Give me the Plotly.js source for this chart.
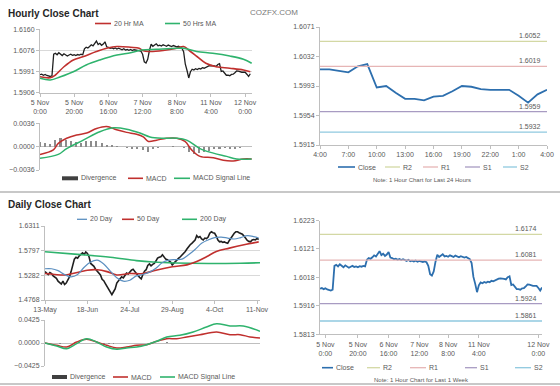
<!DOCTYPE html>
<html><head><meta charset="utf-8">
<script src="https://cdn.plot.ly/plotly-3.0.1.min.js"></script>
<style>html,body{margin:0;padding:0;background:#fff;}#chart{width:560px;height:386px;}</style>
</head><body><div id="chart"></div>
<script>
// ---------- DATA ----------
const hourlyTickIdx = [0,20,40,60,80,100,120];
const weekTickIdx = [3,21,38,55,71,88,121];
const hourlyTickText = ['5 Nov<br>0:00','5 Nov<br>20:00','6 Nov<br>16:00','7 Nov<br>12:00','8 Nov<br>8:00','11 Nov<br>4:00','12 Nov<br>0:00'];
const hourlyYTicks = [1.5906,1.5991,1.6076,1.6160];
const hourlyClose = [
1.5978,1.5980,1.5976,1.5979,1.5975,1.5972,1.5971,1.5974,
1.6060,
1.6064,1.6058,1.6066,1.6060,1.6055,1.6062,1.6059,1.6053,1.6057,1.6060,1.6056,
1.6058,1.6055,1.6059,1.6057,1.6060,1.6058,
1.6082,1.6088,1.6085,1.6091,1.6098,1.6094,1.6105,
1.6113,
1.6099,1.6104,1.6096,1.6101,1.6110,
1.6090,1.6088,1.6084,1.6086,1.6082,1.6085,1.6081,1.6084,
1.6080,1.6078,1.6082,1.6077,1.6079,1.6076,1.6079,1.6075,1.6078,1.6077,1.6074,1.6076,1.6073,
1.6060,1.6030,1.6025,1.6040,1.6075,1.6100,1.6092,1.6098,1.6102,1.6094,
1.6096,1.6093,1.6098,1.6095,1.6092,1.6097,1.6094,1.6091,1.6095,1.6093,1.6090,1.6092,1.6088,1.6084,
1.6070,1.6020,1.5995,1.5965,1.5990,1.6000,
1.5997,1.6002,1.5999,1.6003,1.6001,1.6006,1.6004,1.6008,1.6012,1.6014,
1.6015,1.6015,1.6013,1.6011,1.6019,1.6022,1.5991,1.5993,1.5984,1.5976,1.5976,1.5974,
1.5979,1.5980,1.5986,1.5993,1.5992,1.5989,1.5988,1.5988,1.5988,1.5980,1.5971,1.5982];
const ma20hIdx = [0,6,9,14,19.5,25,33,39,45,53,58,60,64,72,80,84,88,92,97,103,111,119,123];
const ma20h =    [1.5970,1.5966,1.5977,1.6010,1.6037,1.6050,1.6071,1.6084,1.6091,1.6088,1.6084,1.6075,1.6071,1.6075,1.6084,1.6091,1.6071,1.6050,1.6024,1.6010,1.6004,1.5997,1.5990];
const ma50hIdx = [0,6,12,19.5,27,35,45,53,59.5,68,80,84,91.6,101,111,119,123.8];
const ma50h =    [1.5964,1.5957,1.5970,1.5990,1.6017,1.6037,1.6057,1.6066,1.6077,1.6080,1.6084,1.6084,1.6071,1.6064,1.6053,1.6040,1.6024];
const macdHIdx = [0,7.8,10.7,15.6,21.4,27.3,33.1,39,44.8,50.7,56.5,60.4,63.4,68.2,74,79.9,84.8,88.7,93.6,101.4,107.2,113,118.9,123.8];
const macdH =    [-0.0012,-0.0005,0.0005,0.0013,0.0018,0.0021,0.0028,0.0031,0.0026,0.0022,0.0019,0.0015,0.0008,0.0010,0.0013,0.0013,0.0008,-0.0005,-0.0015,-0.0017,-0.0021,-0.0022,-0.0019,-0.0019];
const sigHIdx = [0,10.7,15.6,25.3,35,42.9,50.7,58.5,64.3,72,79.9,85.8,93.6,101.4,109.2,115,123.8];
const sigH =    [-0.0018,-0.0012,-0.0003,0.0010,0.0023,0.0029,0.0027,0.0021,0.0015,0.0013,0.0013,0.0010,-0.0003,-0.0010,-0.0015,-0.0019,-0.0019];
const divHIdx = [0,3,6,9,12,15,18,21,24,27,30,33,36,39,42,45,48,51,54,57,60,63,66,69,72,75,78,81,84,87,90,93,96,99,102,105,108,111,114,117,120,123];
const divH = [0.0007,0.0005,0.0004,0.0010,0.0013,0.0011,0.0009,0.0007,0.0006,0.0008,0.0009,0.0008,0.0006,0.0003,0.0002,0.0001,-0.0001,-0.0002,-0.0003,-0.0003,-0.0005,-0.0008,-0.0004,-0.0002,-0.0001,0.0000,0.0001,0.0000,-0.0002,-0.0008,-0.0012,-0.0010,-0.0008,-0.0006,-0.0004,-0.0003,-0.0002,-0.0003,-0.0004,-0.0002,-0.0001,0.0000];

const dayHours = ['4:00','7:00','10:00','13:00','16:00','19:00','22:00','1:00','4:00'];
const dayYTicks = [1.5915,1.5954,1.5993,1.6032,1.6071];
const dayClose = [1.6015,1.6015,1.6013,1.6011,1.6019,1.6022,1.5991,1.5993,1.5984,1.5976,1.5976,1.5974,1.5979,1.5980,1.5986,1.5993,1.5992,1.5989,1.5988,1.5988,1.5988,1.5980,1.5971,1.5982,1.5988];
const pivotNames = ['R2','R1','S1','S2'];
const pivotColors = ['#d3d8a4','#e6b5b5','#a89bc2','#8fc9df'];
const dayPivots = [1.6052,1.6019,1.5959,1.5932];
const weekYTicks = [1.5813,1.5916,1.6018,1.6121,1.6223];
const weekPivots = [1.6174,1.6081,1.5924,1.5861];

const dailyTickIdx = [0,26,52,78,104,130];
const dailyTickText = ['13-May','18-Jun','24-Jul','29-Aug','4-Oct','11-Nov'];
const dailyYTicks = [1.4768,1.5282,1.5797,1.6311];
const dailyClose = [
1.536,1.533,1.530,1.534,1.532,1.527,1.525,1.522,1.516,1.513,
1.510,1.516,1.509,1.512,1.518,1.525,1.536,1.547,1.562,1.566,
1.564,1.569,1.572,1.575,1.572,1.577,1.574,1.567,1.553,1.550,
1.547,1.541,1.537,1.534,1.529,1.520,1.517,1.511,1.505,1.497,
1.492,1.488,1.494,1.500,1.512,1.518,1.521,1.525,1.523,1.528,
1.533,1.531,1.536,1.539,1.541,1.536,1.532,1.528,1.524,1.521,
1.530,1.537,1.540,1.549,1.552,1.548,1.551,1.553,1.558,1.564,
1.566,1.567,1.571,1.566,1.562,1.561,1.558,1.556,1.550,1.553,
1.556,1.560,1.564,1.567,1.570,1.574,1.578,1.583,1.588,1.592,
1.595,1.599,1.602,1.611,1.607,1.609,1.604,1.602,1.606,1.605,
1.608,1.616,1.619,1.617,1.616,1.610,1.602,1.598,1.599,1.597,
1.598,1.596,1.595,1.601,1.606,1.613,1.616,1.619,1.619,1.617,
1.616,1.614,1.610,1.605,1.601,1.599,1.598,1.602,1.603,1.602,
1.605,1.603];
const ma20dIdx = [0,4,8,12,16,20,24,28,32,36,40,44,48,52,56,60,64,68,72,76,80,84,88,92,96,100,104,108,112,116,120,124,128,131];
const ma20d = [1.542,1.542,1.538,1.530,1.525,1.530,1.545,1.556,1.560,1.552,1.537,1.523,1.516,1.518,1.527,1.530,1.535,1.543,1.555,1.560,1.561,1.562,1.571,1.582,1.595,1.602,1.607,1.608,1.606,1.604,1.607,1.611,1.609,1.606];
const ma50dIdx = [0,6,12,17,26,32,38,44,52,60,68,78,87,93,99,105,113,122,131];
const ma50d = [1.532,1.530,1.529,1.532,1.539,1.540,1.536,1.529,1.532,1.532,1.539,1.546,1.550,1.557,1.567,1.578,1.585,1.592,1.598];
const ma200dIdx = [0,20,40,56,66,80,100,120,131.8];
const ma200d = [1.5775,1.5720,1.5660,1.5590,1.5560,1.5540,1.5530,1.5535,1.5545];
const macdDIdx = [0,7.2,13.3,19.4,25.5,31.7,37.8,44,50,56.2,62.3,68.5,74.6,80.7,86.9,95,105.2,113.4,119.6,125.7,131.8];
const macdD = [0,-0.0043,-0.0074,0.0018,0.0068,0.0018,-0.0043,-0.0092,-0.0074,-0.0043,-0.0031,0.0031,0.0080,0.0080,0.0111,0.0154,0.0203,0.0154,0.0154,0.0111,0.0092];
const sigDIdx = [0,7.2,13.3,19.4,25.5,31.7,37.8,44,50,56.2,62.3,68.5,74.6,82.7,90.8,99,105.2,113.4,121.5,131.8];
const sigD = [0,-0.0055,-0.0105,-0.0012,0.0080,0.0018,-0.0074,-0.0117,-0.0092,-0.0074,-0.0031,0.0031,0.0111,0.0142,0.0203,0.0296,0.0357,0.0314,0.0314,0.0216];
const divDIdx = [0,3,6,9,12,15,18,21,24,27,30,33,36,39,42,45,48,51,54,57,60,63,66,69,72,75,78,81,84,87,90,93,96,99,102,105,108,111,114,117,120,123,126,129];
const divD = [0,-0.0005,-0.0008,-0.0010,-0.0008,0.0003,0.0008,0.0010,0.0006,0.0002,-0.0002,-0.0006,-0.0010,-0.0012,-0.0010,-0.0006,-0.0002,0.0003,0.0006,0.0005,0.0003,0.0002,0.0004,0.0006,0.0008,0.0010,0.0008,0.0005,0.0003,0.0002,0.0002,0.0003,0.0004,0.0005,0.0004,0.0002,-0.0002,-0.0005,-0.0006,-0.0004,-0.0003,-0.0005,-0.0006,-0.0007];

// ---------- STYLE ----------
const FONT = 'Liberation Sans, Arial, sans-serif';
const RED = '#c0302e', GREEN = '#2fb36d', BLACK = '#1f1f1f', STEEL = '#5b8fc0', BLUE = '#2d6fae', DIV = '#8c8c8c';
const W = 560, H = 386;
const px = v => v / W, py = v => 1 - v / H;
const idx = a => a.map((_, i) => i);
const tickFont = {family: FONT, size: 7, color: '#595959'};

const traces = [];
traces.push({x: idx(hourlyClose), y: hourlyClose, xaxis:'x', yaxis:'y', type:'scatter', mode:'lines', name:'Close', line:{color:BLACK, width:1.3}});
traces.push({x: ma20hIdx, y: ma20h, xaxis:'x', yaxis:'y', type:'scatter', mode:'lines', name:'20 Hr MA', line:{color:RED, width:1.6, shape:'spline'}});
traces.push({x: ma50hIdx, y: ma50h, xaxis:'x', yaxis:'y', type:'scatter', mode:'lines', name:'50 Hrs MA', line:{color:GREEN, width:1.6, shape:'spline'}});
traces.push({x: divHIdx, y: divH, xaxis:'x2', yaxis:'y2', type:'bar', name:'Divergence', width:1.2, marker:{color:DIV, line:{width:0}}});
traces.push({x: macdHIdx, y: macdH, xaxis:'x2', yaxis:'y2', type:'scatter', mode:'lines', name:'MACD', line:{color:RED, width:1.5, shape:'spline'}});
traces.push({x: sigHIdx, y: sigH, xaxis:'x2', yaxis:'y2', type:'scatter', mode:'lines', name:'MACD Signal Line', line:{color:GREEN, width:1.5, shape:'spline'}});
traces.push({x: idx(dayClose), y: dayClose, xaxis:'x3', yaxis:'y3', type:'scatter', mode:'lines', name:'Close', line:{color:BLUE, width:1.8}});
pivotNames.forEach((n, i) => traces.push({x:[0, dayClose.length - 1], y:[dayPivots[i], dayPivots[i]], xaxis:'x3', yaxis:'y3', type:'scatter', mode:'lines', name:n, line:{color:pivotColors[i], width:1.3}}));
traces.push({x: idx(dailyClose), y: dailyClose, xaxis:'x4', yaxis:'y4', type:'scatter', mode:'lines', name:'Close', line:{color:BLACK, width:1.6}});
traces.push({x: ma200dIdx, y: ma200d, xaxis:'x4', yaxis:'y4', type:'scatter', mode:'lines', name:'200 Day', line:{color:GREEN, width:1.6, shape:'spline'}});
traces.push({x: ma50dIdx, y: ma50d, xaxis:'x4', yaxis:'y4', type:'scatter', mode:'lines', name:'50 Day', line:{color:RED, width:1.6, shape:'spline'}});
traces.push({x: ma20dIdx, y: ma20d, xaxis:'x4', yaxis:'y4', type:'scatter', mode:'lines', name:'20 Day', line:{color:STEEL, width:1.2, shape:'spline'}});
traces.push({x: divDIdx, y: divD, xaxis:'x5', yaxis:'y5', type:'bar', name:'Divergence', width:1.2, marker:{color:DIV, line:{width:0}}});
traces.push({x: macdDIdx, y: macdD, xaxis:'x5', yaxis:'y5', type:'scatter', mode:'lines', name:'MACD', line:{color:RED, width:1.5, shape:'spline'}});
traces.push({x: sigDIdx, y: sigD, xaxis:'x5', yaxis:'y5', type:'scatter', mode:'lines', name:'MACD Signal Line', line:{color:GREEN, width:1.5, shape:'spline'}});
traces.push({x: idx(hourlyClose), y: hourlyClose, xaxis:'x6', yaxis:'y6', type:'scatter', mode:'lines', name:'Close', line:{color:BLUE, width:1.8}});
pivotNames.forEach((n, i) => traces.push({x:[0, hourlyClose.length - 1], y:[weekPivots[i], weekPivots[i]], xaxis:'x6', yaxis:'y6', type:'scatter', mode:'lines', name:n, line:{color:pivotColors[i], width:1.3}}));

const AX = '#bfbfbf', GRID = '#d9d9d9';
function xa(d0, d1, anchor, range, tv, tt, show) {
  return {domain:[px(d0), px(d1)], anchor, range, tickvals:tv, ticktext:tt, showticklabels:show, tickfont:tickFont,
    ticks: show ? 'outside' : '', ticklen:3, tickcolor:AX, showline:show, linecolor:AX, linewidth:1,
    showgrid:false, zeroline:false, automargin:false, fixedrange:true};
}
function ya(top, bottom, anchor, range, tv, fmt, grid) {
  return {domain:[py(bottom), py(top)], anchor, range, tickvals:tv, tickformat:fmt, tickfont:tickFont,
    ticks:'outside', ticklen:3, tickcolor:AX, showline:true, linecolor:AX, linewidth:1,
    showgrid:grid, gridcolor:GRID, gridwidth:1, zeroline:false, automargin:false, fixedrange:true};
}

const layout = {
  width: W, height: H, margin:{l:0, r:0, t:0, b:0}, paper_bgcolor:'#fff', plot_bgcolor:'rgba(0,0,0,0)',
  showlegend:false, font:{family:FONT, size:7, color:'#595959'}, bargap:0,
  xaxis: xa(40, 252, 'y', [0, 124], hourlyTickIdx, hourlyTickText, true),
  yaxis: ya(29.3, 92.7, 'x', [1.5906, 1.6160], hourlyYTicks, '.4f', true),
  xaxis2: xa(40, 252, 'y2', [0, 124], [], [], false),
  yaxis2: Object.assign(ya(123.3, 170, 'x2', [-0.0036, 0.0036], [-0.0036, 0, 0.0036], '.4f', false), {zeroline:true, zerolinecolor:'#bfbfbf', zerolinewidth:1}),
  xaxis3: xa(320, 547, 'y3', [0, 24], dayHours.map((_, i) => i * 3), dayHours, true),
  yaxis3: ya(27, 145, 'x3', [1.5915, 1.6071], dayYTicks, '.4f', false),
  xaxis4: xa(45, 260, 'y4', [0, 131.8], dailyTickIdx, dailyTickText, true),
  yaxis4: ya(226, 300, 'x4', [1.4768, 1.6311], dailyYTicks, '.4f', true),
  xaxis5: xa(45, 260, 'y5', [0, 131.8], [], [], false),
  yaxis5: Object.assign(ya(320, 366, 'x5', [-0.0425, 0.0425], [-0.0425, 0, 0.0425], '.4f', false), {zeroline:true, zerolinecolor:'#bfbfbf', zerolinewidth:1}),
  xaxis6: xa(320, 542, 'y6', [0, 123], weekTickIdx, hourlyTickText, true),
  yaxis6: ya(220.7, 334.3, 'x6', [1.5813, 1.6223], weekYTicks, '.4f', false),
  shapes: [], annotations: []
};

[192, 384].forEach(y => layout.shapes.push({type:'line', xref:'paper', yref:'paper', x0:0, x1:1, y0:py(y), y1:py(y), line:{color:'#c8c8c8', width:2}}));

function ann(text, x, y, opts) {
  layout.annotations.push(Object.assign({text, xref:'paper', yref:'paper', x:px(x), y:py(y), xanchor:'left', yanchor:'middle', showarrow:false, font:{family:FONT, size:7, color:'#595959'}, borderpad:0}, opts || {}));
}
function legendItem(x0, x1, y, color, width, text) {
  layout.shapes.push({type:'line', xref:'paper', yref:'paper', x0:px(x0), x1:px(x1), y0:py(y), y1:py(y), line:{color, width}});
  ann(text, x1 + 1.5, y);
}

ann('<b>Hourly Close Chart</b>', 7, 13, {font:{family:FONT, size:10, color:'#262626'}});
ann('<b>Daily Close Chart</b>', 7, 204, {font:{family:FONT, size:10, color:'#262626'}});
ann('COZFX.COM', 249, 12, {font:{family:FONT, size:8, color:'#7a7a7a'}});

legendItem(95, 111, 23.5, RED, 1.6, '20 Hr MA');
legendItem(165, 180, 23.5, GREEN, 1.6, '50 Hrs MA');
legendItem(62, 78, 178.3, '#404040', 4, 'Divergence');
legendItem(128, 143, 178.3, RED, 1.6, 'MACD');
legendItem(174, 190, 178.3, GREEN, 1.6, 'MACD Signal Line');
legendItem(338, 355, 167, BLUE, 1.6, 'Close');
[[385,400],[423,438],[465,480],[503,517]].forEach((p, i) => legendItem(p[0], p[1], 167, pivotColors[i], 1.3, pivotNames[i]));
ann('Note: 1 Hour Chart for Last 24 Hours', 421.5, 180, {xanchor:'center', font:{family:FONT, size:6, color:'#595959'}});

legendItem(77, 87, 219.3, STEEL, 1.3, '20 Day');
legendItem(122, 134, 219.3, RED, 1.6, '50 Day');
legendItem(182, 197, 219.3, GREEN, 1.6, '200 Day');
legendItem(52, 67, 377, '#404040', 4, 'Divergence');
legendItem(113, 128, 377, RED, 1.6, 'MACD');
legendItem(160, 175, 377, GREEN, 1.6, 'MACD Signal Line');
legendItem(322, 333, 367.7, BLUE, 1.6, 'Close');
[[367,380],[410,426],[465,477],[515,531]].forEach((p, i) => legendItem(p[0], p[1], 367.7, pivotColors[i], 1.3, pivotNames[i]));
ann('Note: 1 Hour Chart for Last 1 Week', 421.5, 380, {xanchor:'center', font:{family:FONT, size:6, color:'#595959'}});

dayPivots.forEach(v => layout.annotations.push({text:v.toFixed(4), xref:'paper', yref:'y3', x:px(542), y:v, xanchor:'right', yanchor:'bottom', yshift:1, showarrow:false, font:{family:FONT, size:7, color:'#595959'}, borderpad:0}));
weekPivots.forEach(v => layout.annotations.push({text:v.toFixed(4), xref:'paper', yref:'y6', x:px(538), y:v, xanchor:'right', yanchor:'bottom', yshift:1, showarrow:false, font:{family:FONT, size:7, color:'#595959'}, borderpad:0}));

Plotly.newPlot('chart', traces, layout, {displayModeBar:false, staticPlot:true});
</script></body></html>
